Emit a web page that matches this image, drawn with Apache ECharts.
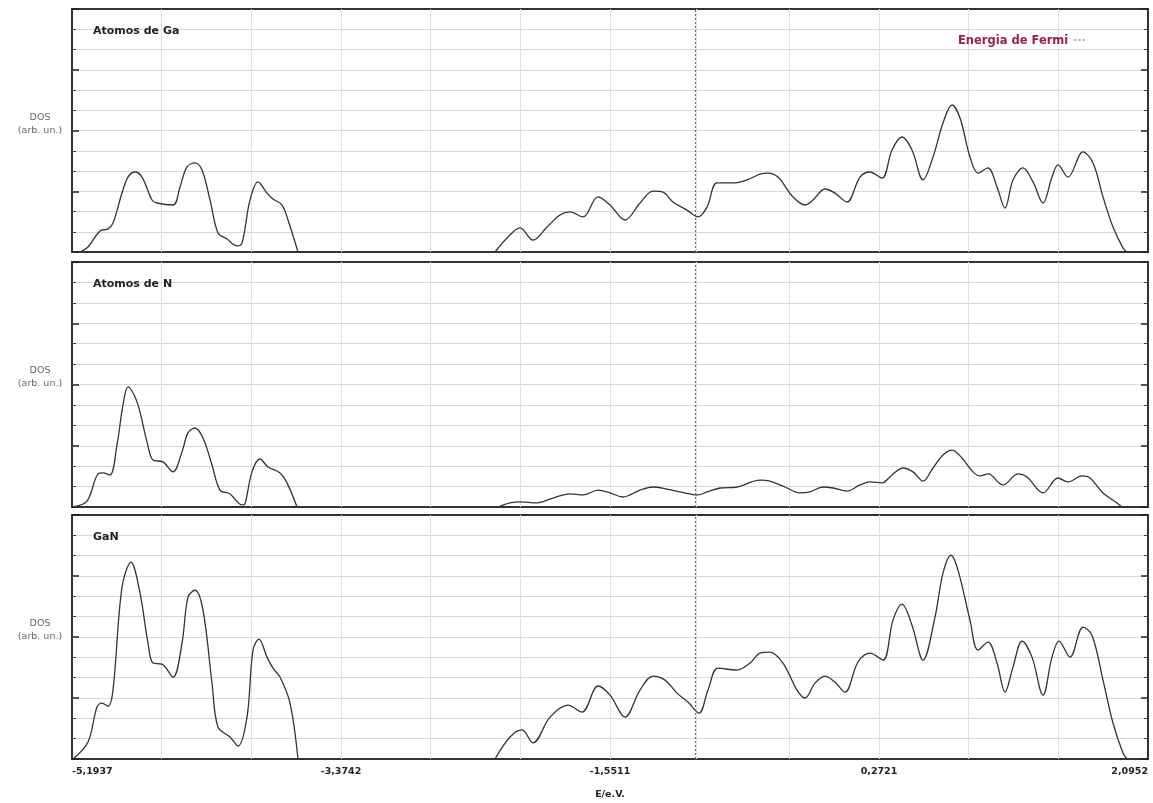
<!DOCTYPE html>
<html>
<head>
<meta charset="utf-8">
<style>
  html, body { margin: 0; padding: 0; background: #ffffff; }
  #chart { width: 1153px; height: 803px; }
</style>
<script src="https://cdn.jsdelivr.net/npm/echarts@6/dist/echarts.min.js"></script>
</head>
<body>
<div id="chart"></div>
<script>
// ---------- data ----------
const panelTitles = ['Atomos de Ga', 'Atomos de N', 'GaN'];
const xTickLabels = ['-5,1937', '-3,3742', '-1,5511', '0,2721', '2,0952'];
const xLabelValues = [-5.1937, -3.3715, -1.5492, 0.2730, 2.0952];
const xGridValues = [-5.1937, -4.5863, -3.9789, -3.3715, -2.7641, -2.1566, -1.5492, -0.9667, -0.3344, 0.2730, 0.8804, 1.4878, 2.0952];
const fermiEnergy = -0.9667;

// Ga atoms
const gaEnergy = [-5.1395, -5.0853, -5.0040, -4.9498, -4.9160, -4.8550, -4.8144, -4.7669, -4.7195, -4.6518, -4.6179, -4.5095, -4.4621, -4.4147, -4.3605, -4.3131, -4.2589, -4.2047, -4.1437, -4.0760, -4.0421, -3.9879, -3.9337, -3.8728, -3.8321, -3.7711, -3.7305, -3.6628,
  -3.0,
  -2.3283, -2.2402, -2.1589, -2.0708, -1.9760, -1.8879, -1.8202, -1.7321, -1.6305, -1.5492, -1.4476, -1.3460, -1.2579, -1.1902, -1.1225, -1.0276, -0.9531, -0.8921, -0.8244, -0.7160, -0.6212, -0.5331, -0.4789, -0.4112, -0.3096, -0.2283, -0.1741, -0.0928, -0.0251, 0.0562, 0.1443, 0.2120, 0.2933, 0.3611, 0.4288, 0.4965, 0.5711, 0.6388, 0.7065, 0.7675, 0.8217, 0.8894, 0.9436, 1.0113, 1.0723, 1.1265, 1.1807, 1.2485, 1.3162, 1.3840, 1.4449, 1.4856, 1.5533, 1.6549, 1.7227, 1.7904, 1.8581, 1.9259, 1.9530];
const gaDos = [0, 0.25, 1.04, 1.14, 1.43, 2.91, 3.70, 3.95, 3.70, 2.57, 2.42, 2.32, 3.21, 4.20, 4.40, 4.05, 2.57, 0.94, 0.64, 0.30, 0.44, 2.57, 3.46, 2.91, 2.62, 2.32, 1.58, 0,
  null,
  0, 0.74, 1.19, 0.59, 1.23, 1.83, 1.98, 1.73, 2.72, 2.32, 1.58, 2.42, 3.01, 2.96, 2.47, 2.07, 1.73, 2.22, 3.41, 3.41, 3.56, 3.85, 3.90, 3.70, 2.72, 2.32, 2.57, 3.11, 2.91, 2.47, 3.70, 3.95, 3.65, 5.04, 5.68, 5.04, 3.56, 4.69, 6.37, 7.26, 6.62, 4.69, 3.90, 4.15, 3.21, 2.17, 3.56, 4.15, 3.46, 2.42, 3.70, 4.30, 3.70, 4.94, 4.40, 2.72, 1.23, 0.20, 0];

// N atoms
const nEnergy = [-5.1869, -5.0921, -5.0176, -4.9837, -4.9363, -4.8889, -4.8482, -4.8144, -4.7534, -4.6856, -4.6450, -4.5773, -4.5095, -4.4485, -4.4079, -4.3605, -4.3063, -4.2453, -4.1911, -4.1234, -4.0421, -4.0218, -3.9744, -3.9202, -3.8660, -3.7847, -3.7373, -3.6695,
  -3.0,
  -2.3079, -2.2266, -2.1589, -2.0437, -1.9354, -1.8202, -1.7321, -1.6305, -1.5492, -1.4612, -1.3460, -1.2579, -1.1631, -1.0750, -0.9531, -0.8921, -0.8041, -0.6889, -0.5331, -0.4654, -0.3638, -0.2622, -0.1944, -0.1064, -0.0386, 0.0562, 0.1443, 0.2120, 0.2933, 0.3611, 0.4356, 0.5033, 0.5711, 0.6388, 0.7065, 0.7675, 0.8352, 0.9097, 0.9571, 1.0113, 1.1129, 1.2146, 1.2756, 1.3840, 1.4856, 1.5533, 1.6481, 1.7023, 1.7904, 1.8852, 1.9191];
const nDos = [0, 0.29, 1.62, 1.67, 1.57, 3.04, 5.00, 5.88, 5.15, 3.19, 2.30, 2.21, 1.72, 2.70, 3.63, 3.87, 3.38, 2.06, 0.83, 0.64, 0.10, 0.15, 1.72, 2.35, 1.96, 1.67, 1.18, 0,
  null,
  0, 0.20, 0.25, 0.20, 0.44, 0.64, 0.59, 0.83, 0.69, 0.49, 0.83, 0.98, 0.88, 0.74, 0.59, 0.74, 0.93, 0.98, 1.32, 1.27, 0.98, 0.69, 0.74, 0.98, 0.93, 0.78, 1.08, 1.23, 1.18, 1.57, 1.91, 1.72, 1.27, 1.91, 2.55, 2.79, 2.40, 1.72, 1.52, 1.62, 1.08, 1.62, 1.47, 0.69, 1.42, 1.23, 1.52, 1.42, 0.69, 0.20, 0];

// GaN total
const ganEnergy = [-5.1869, -5.0853, -5.0243, -4.9905, -4.9498, -4.9160, -4.8550, -4.7940, -4.7331, -4.6789, -4.6450, -4.5840, -4.5095, -4.4485, -4.4079, -4.3605, -4.3063, -4.2453, -4.2047, -4.1234, -4.0692, -4.0082, -3.9676, -3.9269, -3.8728, -3.8321, -3.7847, -3.7169, -3.6628,
  -3.0,
  -2.3283, -2.2266, -2.1454, -2.0708, -1.9557, -1.8337, -1.7389, -1.6305, -1.5492, -1.4476, -1.3460, -1.2579, -1.1767, -1.0954, -1.0209, -0.9463, -0.8854, -0.8176, -0.6889, -0.6009, -0.5331, -0.4654, -0.3773, -0.2825, -0.2283, -0.1605, -0.0928, -0.0251, 0.0427, 0.1307, 0.2120, 0.3001, 0.3678, 0.4288, 0.4965, 0.5711, 0.6523, 0.7065, 0.7607, 0.8081, 0.8894, 0.9436, 1.0113, 1.0723, 1.1265, 1.1807, 1.2417, 1.3094, 1.3840, 1.4449, 1.4923, 1.5669, 1.6549, 1.7159, 1.7904, 1.8581, 1.9259, 1.9530];
const ganDos = [0, 0.84, 2.56, 2.75, 2.60, 3.39, 8.45, 9.68, 8.16, 5.70, 4.72, 4.67, 4.03, 5.70, 7.96, 8.30, 7.32, 3.73, 1.57, 1.08, 0.64, 2.06, 5.36, 5.90, 5.01, 4.47, 4.03, 2.75, 0,
  null,
  0, 1.08, 1.43, 0.79, 2.06, 2.65, 2.31, 3.59, 3.14, 2.06, 3.39, 4.08, 3.88, 3.24, 2.80, 2.26, 3.39, 4.47, 4.37, 4.72, 5.21, 5.26, 4.72, 3.39, 3.00, 3.73, 4.08, 3.78, 3.29, 4.77, 5.21, 4.86, 6.83, 7.62, 6.58, 4.86, 6.98, 9.14, 10.02, 9.29, 6.83, 5.36, 5.75, 4.72, 3.29, 4.52, 5.80, 5.01, 3.14, 5.01, 5.80, 5.01, 6.49, 6.09, 3.88, 1.77, 0.29, 0];

// ---------- chart ----------
const FONT = 'DejaVu Sans';
const panels = [
  { e: gaEnergy, d: gaDos, top: 9, height: 243 },
  { e: nEnergy, d: nDos, top: 262, height: 245 },
  { e: ganEnergy, d: ganDos, top: 515, height: 244 }
];

function toPairs(E, D) {
  return E.map((x, i) => [x, D[i] === null ? '-' : D[i]]);
}

const gridColor = '#d8d8d8';
const grids = [], xAxes = [], yAxes = [], series = [], titles = [];

panels.forEach((p, i) => {
  grids.push({
    left: 72, right: 5, top: p.top, height: p.height,
    show: true, borderColor: '#333', borderWidth: 2, backgroundColor: '#fff'
  });
  const isLast = i === panels.length - 1;
  xAxes.push({
    type: 'value', gridIndex: i,
    min: -5.1937, max: 2.0952,
    axisLine: { show: false, onZero: false },
    axisTick: { show: false, customValues: xGridValues },
    splitLine: { show: true, showMinLine: false, showMaxLine: false, lineStyle: { color: '#e0e0e0', width: 1 } },
    axisLabel: isLast ? {
      show: true,
      customValues: xLabelValues,
      margin: 8,
      hideOverlap: false,
      alignMinLabel: 'left',
      alignMaxLabel: 'right',
      fontFamily: FONT, fontSize: 9.5, fontWeight: 'bold', color: '#222',
      formatter: function (v) {
        let best = 0, bd = Infinity;
        xLabelValues.forEach((lv, k) => { const dd = Math.abs(lv - v); if (dd < bd) { bd = dd; best = k; } });
        return xTickLabels[best];
      }
    } : { show: false },
    name: isLast ? 'E/e.V.' : '',
    nameLocation: 'middle',
    nameGap: 31,
    nameTextStyle: { fontFamily: FONT, fontSize: 9.5, fontWeight: 'bold', color: '#222' }
  });
  const yBase = {
    type: 'value', gridIndex: i, min: 0, max: 12, interval: 3,
    axisLine: { show: false, onZero: false },
    axisLabel: { show: false },
    axisTick: { show: true, inside: true, length: 7, lineStyle: { color: '#222', width: 1.5 } },
    minorTick: { show: true, splitNumber: 3, length: 4, lineStyle: { color: '#444', width: 1 } }
  };
  yAxes.push(Object.assign({}, yBase, {
    position: 'left',
    splitLine: { show: true, showMinLine: false, showMaxLine: false, lineStyle: { color: gridColor, width: 1 } },
    minorSplitLine: { show: true, lineStyle: { color: gridColor, width: 1 } }
  }));
  yAxes.push(Object.assign({}, yBase, {
    position: 'right',
    splitLine: { show: false },
    minorSplitLine: { show: false }
  }));
  series.push({
    type: 'line', name: panelTitles[i],
    xAxisIndex: i, yAxisIndex: i * 2,
    data: toPairs(p.e, p.d),
    showSymbol: false, smooth: 0.35, connectNulls: false,
    lineStyle: { color: '#333', width: 1.3 },
    silent: true, z: 3,
    markLine: {
      silent: true, symbol: 'none',
      label: { show: false },
      lineStyle: { color: '#666', type: [2, 2], width: 1 },
      data: [{ xAxis: fermiEnergy }]
    }
  });
  titles.push({
    text: panelTitles[i], left: 88, top: p.top + 12,
    textStyle: { fontFamily: FONT, fontSize: 11, fontWeight: 'bold', color: '#222' }
  });
  titles.push({
    text: 'DOS\n(arb. un.)', left: 35, top: p.top + 97, textAlign: 'center',
    textStyle: { fontFamily: FONT, fontSize: 9.5, fontWeight: 'normal', color: '#666', lineHeight: 13, align: 'center' }
  });
});

titles.push({
  text: '{a|Energia de Fermi} {b|···}',
  left: 953, top: 27,
  textStyle: {
    rich: {
      a: { fontFamily: FONT, fontSize: 11.5, fontWeight: 'bold', color: '#9b2049' },
      b: { fontFamily: FONT, fontSize: 11, color: '#aaa' }
    }
  }
});

const chart = echarts.init(document.getElementById('chart'), null, { renderer: 'canvas' });
chart.setOption({
  backgroundColor: '#fff',
  animation: false,
  title: titles,
  grid: grids,
  xAxis: xAxes,
  yAxis: yAxes,
  series: series
});
</script>
</body>
</html>
